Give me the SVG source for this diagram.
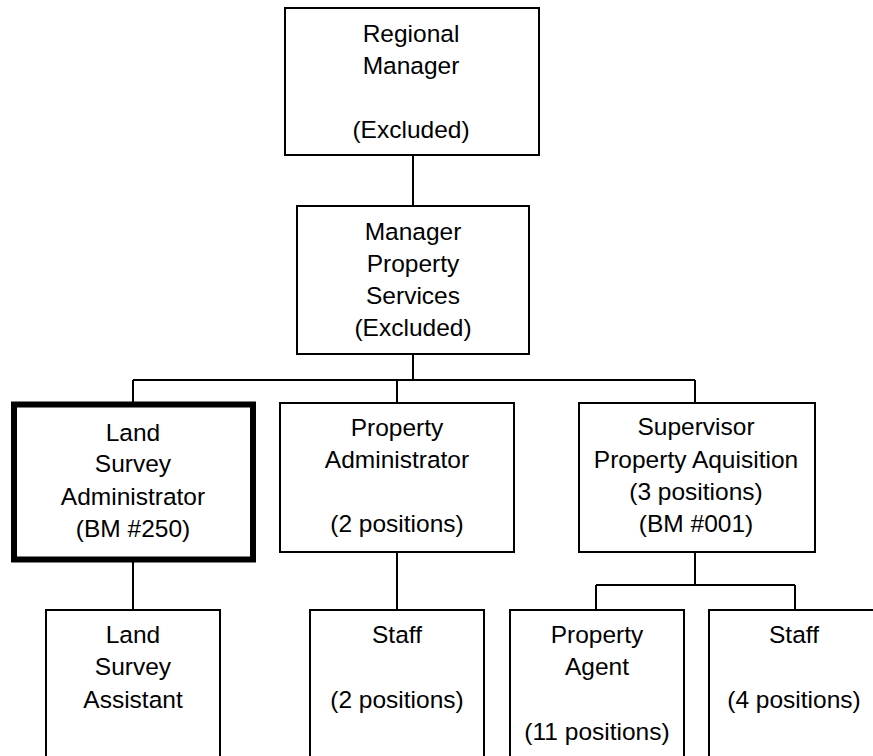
<svg xmlns="http://www.w3.org/2000/svg" width="873" height="756" viewBox="0 0 873 756">
<style>
  .box { fill: #ffffff; stroke: #000000; stroke-width: 2; }
  .thick { fill: #ffffff; stroke: #000000; stroke-width: 6; }
  .conn { fill: none; stroke: #000000; stroke-width: 2; }
  text { font-family: "Liberation Sans", Arial, sans-serif; font-size: 24.5px; fill: #000000; text-anchor: middle; }
</style>
<rect x="0" y="0" width="873" height="756" fill="#ffffff"/>
<g id="connectors">
  <path class="conn" d="M413 155 V206"/>
  <path class="conn" d="M413 354 V380"/>
  <path class="conn" d="M133 380 H695"/>
  <path class="conn" d="M133 380 V402"/>
  <path class="conn" d="M397 380 V403"/>
  <path class="conn" d="M695 380 V403"/>
  <path class="conn" d="M133 562 V610"/>
  <path class="conn" d="M397 552 V610"/>
  <path class="conn" d="M695 552 V585"/>
  <path class="conn" d="M596 585 H795"/>
  <path class="conn" d="M596 585 V610"/>
  <path class="conn" d="M795 585 V610"/>
</g>
<g id="regional-manager">
  <rect class="box" x="285" y="8" width="254" height="147"/>
  <text x="411" y="42">Regional</text>
  <text x="411" y="74">Manager</text>
  <text x="411" y="138">(Excluded)</text>
</g>
<g id="manager-property-services">
  <rect class="box" x="297" y="206" width="232" height="148"/>
  <text x="413" y="240">Manager</text>
  <text x="413" y="272">Property</text>
  <text x="413" y="304">Services</text>
  <text x="413" y="336">(Excluded)</text>
</g>
<g id="land-survey-administrator">
  <rect class="thick" x="14" y="404.5" width="239" height="155"/>
  <text x="133" y="441">Land</text>
  <text x="133" y="472">Survey</text>
  <text x="133" y="505">Administrator</text>
  <text x="133" y="537">(BM #250)</text>
</g>
<g id="property-administrator">
  <rect class="box" x="280" y="403" width="234" height="149"/>
  <text x="397" y="436">Property</text>
  <text x="397" y="468">Administrator</text>
  <text x="397" y="532">(2 positions)</text>
</g>
<g id="supervisor-property-aquisition">
  <rect class="box" x="579" y="403" width="236" height="149"/>
  <text x="696" y="435">Supervisor</text>
  <text x="696" y="468">Property Aquisition</text>
  <text x="696" y="500">(3 positions)</text>
  <text x="696" y="532">(BM #001)</text>
</g>
<g id="land-survey-assistant">
  <rect class="box" x="46" y="610" width="174" height="160"/>
  <text x="133" y="643">Land</text>
  <text x="133" y="675">Survey</text>
  <text x="133" y="708">Assistant</text>
</g>
<g id="staff-2">
  <rect class="box" x="310" y="610" width="174" height="160"/>
  <text x="397" y="643">Staff</text>
  <text x="397" y="708">(2 positions)</text>
</g>
<g id="property-agent">
  <rect class="box" x="510" y="610" width="174" height="160"/>
  <text x="597" y="643">Property</text>
  <text x="597" y="675">Agent</text>
  <text x="597" y="740">(11 positions)</text>
</g>
<g id="staff-4">
  <rect class="box" x="709" y="610" width="174" height="160"/>
  <text x="794" y="643">Staff</text>
  <text x="794" y="708">(4 positions)</text>
</g>
</svg>
